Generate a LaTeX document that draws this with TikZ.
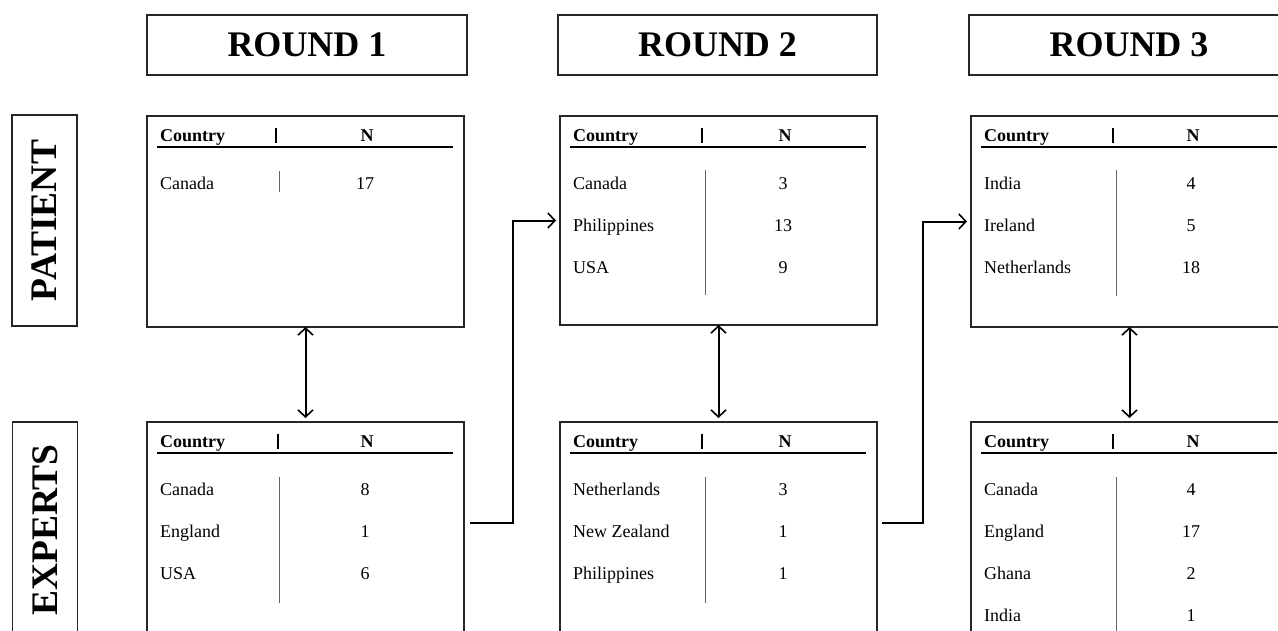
\documentclass[tikz,border=0pt]{standalone}
\usepackage{fontspec}
\setmainfont{Liberation Serif}
\usetikzlibrary{arrows.meta,calc}
\tikzset{
  frame/.style={draw=black!85, line width=1.6pt, rectangle, inner sep=0pt, outer sep=0pt},
  roundbox/.style={frame, anchor=north west, minimum width=320pt, minimum height=60pt,
    font=\fontsize{36}{40}\selectfont\bfseries},
  databox/.style={frame, anchor=north west, minimum width=317pt},
  sidebox/.style={frame, rotate=90, minimum height=65pt,
    font=\fontsize{37.5}{40}\selectfont\bfseries},
  hdr/.style={font=\fontsize{18}{20}\selectfont\bfseries, anchor=base west, inner sep=0pt},
  cell/.style={font=\fontsize{18}{20}\selectfont, anchor=base west, inner sep=0pt},
  num/.style={font=\fontsize{18}{20}\selectfont, anchor=base, inner sep=0pt},
  headrule/.style={line width=2.2pt},
  hbar/.style={line width=1.2pt},
  colline/.style={draw=black!60, line width=1pt},
  barb/.tip={Straight Barb[length=7pt,width=15pt,line width=1.6pt]},
  link/.style={line width=2pt, -barb, shorten >=4pt},
  biarrow/.style={line width=2pt, barb-barb, shorten >=4pt},
}
% #1 name, #2 left x, #3 top y, #4 height, #5 header bar offset, #6 N offset, #7 rows
\newcommand{\countrytable}[7]{%
  \node[databox, minimum height=#4pt] (#1) at (#2,#3) {};
  \node[hdr] (#1-c) at (#2+13,#3+25) {Country};
  \draw[hbar] (#2+#5,#3+12) -- (#2+#5,#3+27);
  \node[hdr, anchor=base] (#1-n) at (#2+#6,#3+25) {N};
  \draw[headrule] (#2+10,#3+31) -- (#2+306,#3+31);
  \foreach [count=\i] \c/\n in {#7} {
    \node[cell] (#1-r\i) at (#2+13,#3+31+42*\i) {\c};
    \node[num] (#1-v\i) at (#2+#6-2,#3+31+42*\i) {\n};
  }%
}
\begin{document}
\begin{tikzpicture}[x=1pt,y=-1pt]
\useasboundingbox (0,0) rectangle (1278,630);
\clip (0,0) rectangle (1278,630);

% round headers
\node[roundbox] (r1) at (147,15) {ROUND 1};
\node[roundbox, minimum width=319pt] (r2) at (558,15) {ROUND 2};
\node[roundbox] (r3) at (969,15) {ROUND 3};

% side labels
\node[sidebox, minimum width=211pt] (pat) at (44.5,220.5) {PATIENT};
\node[sidebox, minimum width=216pt] (exp) at (45,530) {EXPERTS};

% round 1
\countrytable{p1}{147}{116}{211}{129}{220}{Canada/17}
\draw[colline] (279,171) -- (279,192);
\countrytable{e1}{147}{422}{260}{131}{220}{Canada/8,England/1,USA/6}
\draw[colline] (279,477) -- (279,603);

% round 2
\countrytable{p2}{560}{116}{209}{142}{225}{Canada/3,Philippines/13,USA/9}
\draw[colline] (705,170) -- (705,295);
\countrytable{e2}{560}{422}{260}{142}{225}{Netherlands/3,New Zealand/1,Philippines/1}
\draw[colline] (705,477) -- (705,603);

% round 3
\countrytable{p3}{971}{116}{211}{142}{222}{India/4,Ireland/5,Netherlands/18}
\draw[colline] (1116,170) -- (1116,296);
\countrytable{e3}{971}{422}{260}{142}{222}{Canada/4,England/17,Ghana/2,India/1}
\draw[colline] (1116,477) -- (1116,640);

% vertical double arrows
\draw[biarrow] (p1.south) -- (e1.north);
\draw[biarrow] (p2.south) -- (e2.north);
\draw[biarrow] (p3.south) -- (e3.north);

% elbow arrows between rounds
\draw[link] ($(e1.north east)+(6,101)$) -- ++(43,0) |- (p2.west);
\draw[link] ($(e2.north east)+(5,101)$) -- ++(41,0) |- (p3.west);
\end{tikzpicture}
\end{document}
